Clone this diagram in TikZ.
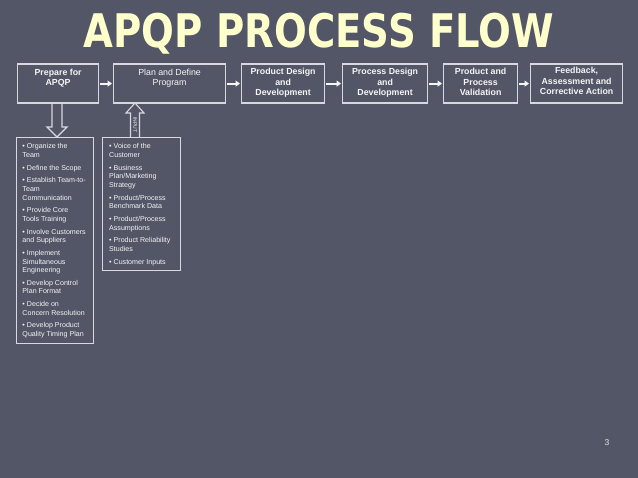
\documentclass[tikz,border=0pt]{standalone}
\usepackage{fontspec}
\setmainfont{Liberation Sans}
\newfontfamily\titlefont{DejaVu Sans}
\usetikzlibrary{calc,arrows.meta}
\definecolor{slidebg}{RGB}{83,86,103}
\definecolor{titleyellow}{RGB}{255,255,204}
\definecolor{boxline}{RGB}{215,216,224}
\definecolor{txt}{RGB}{245,245,245}
\tikzset{
  x=1pt, y=1pt,
  titlestyle/.style={inner sep=0pt, anchor=base, text=titleyellow, font=\titlefont\bfseries\fontsize{38.6}{40}\selectfont},
  stagebox/.style={draw=boxline, line width=1.2pt, inner sep=0pt, minimum height=39pt, anchor=north west},
  stagetext/.style={text=txt, align=center, inner sep=0pt, anchor=north, font=\fontsize{8.8}{10.7}\selectfont\bfseries},
  flowarrow/.style={draw=txt, line width=2pt, -{Triangle[length=4.5pt,width=6pt]}, shorten <=1pt, shorten >=1pt},
  listbox/.style={draw=boxline, line width=1.2pt, inner sep=0pt, anchor=north west},
  listtext/.style={text=txt, align=left, inner sep=0pt, anchor=north west, font=\fontsize{7.1}{8.6}\selectfont},
  hollow/.style={draw=boxline, line width=1.1pt, line join=miter},
}
\newcommand{\bul}{\textbullet\ }
\begin{document}
\begin{tikzpicture}
\fill[slidebg] (0,0) rectangle (638,-478);
\useasboundingbox (0,0) rectangle (638,-478);

% title
\node[titlestyle] (title) at (319,-47.5) {\scalebox{1}[1.2]{APQP PROCESS FLOW}};

% stage boxes
\node[stagebox, minimum width=81pt] (b1) at (17,-63.5) {};
\node[stagebox, minimum width=112pt] (b2) at (113,-63.5) {};
\node[stagebox, minimum width=83pt] (b3) at (241,-63.5) {};
\node[stagebox, minimum width=85pt] (b4) at (342,-63.5) {};
\node[stagebox, minimum width=74pt] (b5) at (443,-63.5) {};
\node[stagebox, minimum width=92pt] (b6) at (530,-63.5) {};

\node[stagetext] (t1) at ([yshift=-5pt]b1.north) {Prepare for\\APQP};
\node[stagetext, font=\fontsize{8.8}{10.7}\selectfont] (t2) at ([yshift=-5pt]b2.north) {Plan and Define\\Program};
\node[stagetext] (t3) at ([yshift=-4.5pt]b3.north) {Product Design\\and\\Development};
\node[stagetext] (t4) at ([yshift=-4.5pt]b4.north) {Process Design\\and\\Development};
\node[stagetext] (t5) at ([yshift=-4.5pt]b5.north) {Product and\\Process\\Validation};
\node[stagetext] (t6) at ([yshift=-3.5pt]b6.north) {Feedback,\\Assessment and\\Corrective Action};

\draw[flowarrow] (b1.east) -- (b2.west);
\draw[flowarrow] (b2.east) -- (b3.west);
\draw[flowarrow] (b3.east) -- (b4.west);
\draw[flowarrow] (b4.east) -- (b5.west);
\draw[flowarrow] (b5.east) -- (b6.west);

% list boxes
\node[listbox, minimum width=77pt, minimum height=206pt] (Lbox) at (16,-137) {};
\node[listbox, minimum width=78pt, minimum height=133pt] (Rbox) at (102,-137) {};

\node[listtext] (Ltext) at ($(Lbox.north west)+(6.3,-6.6)$) {%
\bul Organize the\\Team\\[4.1pt]
\bul Define the Scope\\[4.1pt]
\bul Establish Team-to-\\Team\\Communication\\[4.1pt]
\bul Provide Core\\Tools Training\\[4.1pt]
\bul Involve Customers\\and Suppliers\\[4.1pt]
\bul Implement\\Simultaneous\\Engineering\\[4.1pt]
\bul Develop Control\\Plan Format\\[4.1pt]
\bul Decide on\\Concern Resolution\\[4.1pt]
\bul Develop Product\\Quality Timing Plan};

\node[listtext] (Rtext) at ($(Rbox.north west)+(7,-6.6)$) {%
\bul Voice of the\\Customer\\[4.1pt]
\bul Business\\Plan/Marketing\\Strategy\\[4.1pt]
\bul Product/Process\\Benchmark Data\\[4.1pt]
\bul Product/Process\\Assumptions\\[4.1pt]
\bul Product Reliability\\Studies\\[4.1pt]
\bul Customer Inputs};

% hollow down arrow from b1 to Lbox
\coordinate (dtop) at (57,-103);
\coordinate (dtip) at (57,-137);
\draw[hollow] ($(dtop)+(-5,0)$) -- ($(dtip)+(-5,10)$) -- ($(dtip)+(-10,10)$) -- (dtip) -- ($(dtip)+(10,10)$) -- ($(dtip)+(5,10)$) -- ($(dtop)+(5,0)$);

% hollow up arrow (INPUT) from Rbox to b2
\coordinate (utip) at (135,-103);
\coordinate (ubase) at (135,-137);
\draw[hollow] ($(ubase)+(-4.5,0)$) -- ($(utip)+(-4.5,-10)$) -- ($(utip)+(-9,-10)$) -- (utip) -- ($(utip)+(9,-10)$) -- ($(utip)+(4.5,-10)$) -- ($(ubase)+(4.5,0)$);
\node[text=txt, rotate=-90, font=\fontsize{5}{5}\selectfont, inner sep=0pt] (inputlbl) at (135,-125) {INPUT};

% page number
\node[text=txt!85!gray, font=\fontsize{8.5}{9}\selectfont, inner sep=0pt] (pagenum) at (607,-443) {3};
\end{tikzpicture}
\end{document}
